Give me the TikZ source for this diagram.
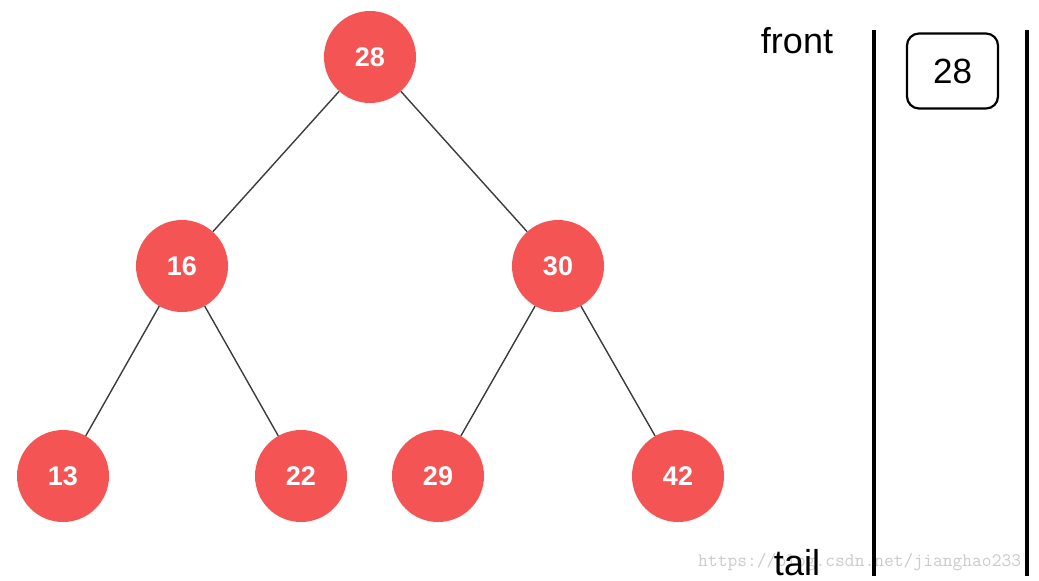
\documentclass[tikz,border=0pt]{standalone}
\usepackage{fontspec}
\setmainfont{Liberation Sans}
\definecolor{nodered}{HTML}{F45454}
\definecolor{edgegray}{HTML}{3C3C3C}
\definecolor{wmgray}{HTML}{CBCBCB}
\begin{document}
\begin{tikzpicture}[x=1pt,y=-1pt,
  tnode/.style={circle,fill=nodered,draw=none,minimum size=92pt,inner sep=0pt,
    text=white,font=\fontsize{27}{27}\selectfont\bfseries},
  tedge/.style={draw=edgegray,line width=1.4pt},
  qline/.style={line width=3.6pt,black},
  qbox/.style={draw=black,line width=2.2pt,rounded corners=12pt,minimum width=91pt,
    minimum height=75pt,inner sep=0pt,font=\fontsize{35}{35}\selectfont},
  lbl/.style={font=\fontsize{36}{36}\selectfont,inner sep=0pt},
  wm/.style={font=\ttfamily\fontsize{19}{19}\selectfont,text=wmgray,inner sep=0pt,anchor=base west}]
\useasboundingbox[fill=white] (0,0) rectangle (1039,581);
\node[tnode] (n28) at (370,57) {28};
\node[tnode] (n16) at (182,266) {16};
\node[tnode] (n30) at (558,266) {30};
\node[tnode] (n13) at (63,476) {13};
\node[tnode] (n22) at (301,476) {22};
\node[tnode] (n29) at (438,476) {29};
\node[tnode] (n42) at (678,476) {42};
\draw[tedge] (n28) -- (n16);
\draw[tedge] (n28) -- (n30);
\draw[tedge] (n16) -- (n13);
\draw[tedge] (n16) -- (n22);
\draw[tedge] (n30) -- (n29);
\draw[tedge] (n30) -- (n42);
\node[wm] (wm) at (698,566) {https://blog.csdn.net/jianghao233};
\coordinate (l1) at (874,30);
\coordinate (l2) at (874,576);
\coordinate (r1) at (1027,30);
\coordinate (r2) at (1027,576);
\draw[qline] (l1) -- (l2);
\draw[qline] (r1) -- (r2);
\node[qbox] (q28) at (952.5,71) {28};
\node[lbl] (front) at (797,41) {front};
\node[lbl] (tail) at (797,563) {tail};
\end{tikzpicture}
\end{document}
